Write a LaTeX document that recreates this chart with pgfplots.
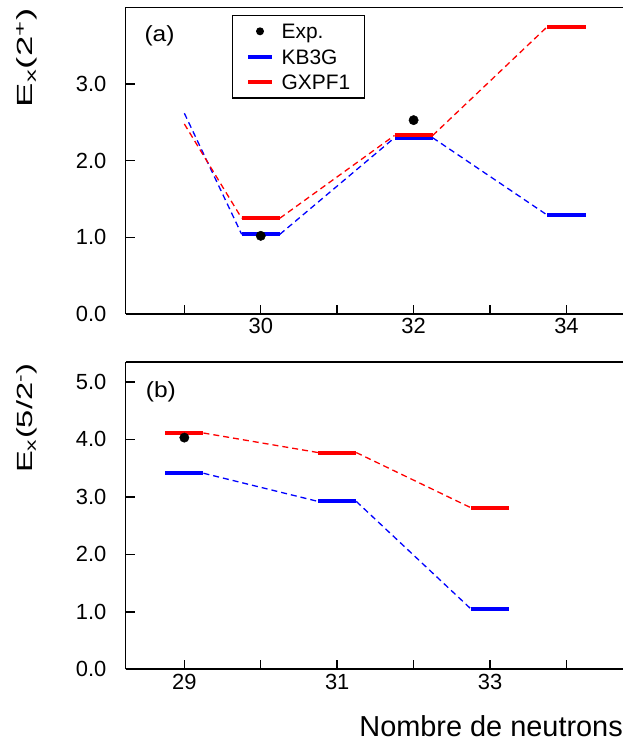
\documentclass[border=0pt]{standalone}
\usepackage{fontspec}
\setmainfont{Liberation Sans}
\usepackage{pgfplots}
\pgfplotsset{compat=1.18}
\definecolor{myblue}{RGB}{0,0,255}
\definecolor{myred}{RGB}{255,0,0}
\pgfplotsset{
  common/.style={
    scale only axis, width=497.5bp,
    xmin=28.23, xmax=34.74,
    axis x line*=box, axis y line*=left,
    xtick pos=bottom, ytick pos=left,
    tick align=inside,
    major tick length=9bp, minor tick length=9bp,
    axis line style={line width=1.6bp, black},
    every tick/.style={line width=1.4bp, black},
    tick label style={font=\fontsize{22}{26}\selectfont, inner sep=0pt},
    xticklabel style={yshift=-4.5bp},
    yticklabel style={xshift=-19bp},
    /pgf/number format/assume math mode=true,
    yticklabel style={/pgf/number format/fixed, /pgf/number format/fixed zerofill, /pgf/number format/precision=1},
    unbounded coords=jump,
    clip=false,
  },
  bar/.style={line width=4bp, forget plot},
  dsh/.style={line width=1.3bp, dash pattern=on 6bp off 4bp, forget plot},
}
\begin{document}
\begin{tikzpicture}
\useasboundingbox (0,0) rectangle (623bp,742bp);
% ---------- top panel ----------
\begin{axis}[common, at={(125.5bp,428bp)}, anchor=south west, height=306.5bp,
  ymin=0, ymax=4.0, ytick={0,1,2,3},
  xtick={30,32,34}, minor xtick={29,31,33},
  legend style={at={(0.2135,0.9755)}, anchor=north west, draw=black, line width=1.3bp,
    font=\fontsize{21}{24}\selectfont, inner xsep=14bp, inner ysep=2.9bp, row sep=0pt,
    nodes={inner sep=0pt, text height=20.1bp, text depth=5.4bp}},
  legend cell align=left]
\addlegendimage{legend image code/.code={\path[draw=none] (0bp,0bp) -- (33.3bp,0bp); \fill[black, draw=none] (11.65bp,0bp) circle (4bp);}}
\addlegendentry{Exp.}
\addlegendimage{legend image code/.code={\path[draw=none] (0bp,0bp) -- (33.3bp,0bp); \draw[myblue, line width=4bp] (0bp,0bp) -- (23.3bp,0bp);}}
\addlegendentry{KB3G}
\addlegendimage{legend image code/.code={\path[draw=none] (0bp,0bp) -- (33.3bp,0bp); \draw[myred, line width=4bp] (0bp,0bp) -- (23.3bp,0bp);}}
\addlegendentry{GXPF1}
% KB3G
\addplot[myblue, dsh] coordinates {(29,2.62) (29.75,1.04) (30,nan) (30.25,1.04) (31.75,2.30) (32,nan) (32.25,2.30) (33.75,1.29)};
\addplot[myblue, bar] coordinates {(29.75,1.04) (30.25,1.04) (31,nan) (31.75,2.30) (32.25,2.30) (33,nan) (33.75,1.29) (34.25,1.29)};
% GXPF1
\addplot[myred, dsh] coordinates {(29,2.48) (29.75,1.25) (30,nan) (30.25,1.25) (31.75,2.33) (32,nan) (32.25,2.33) (33.75,3.75)};
\addplot[myred, bar] coordinates {(29.75,1.25) (30.25,1.25) (31,nan) (31.75,2.33) (32.25,2.33) (33,nan) (33.75,3.75) (34.25,3.75)};
% Exp
\addplot[only marks, mark=*, mark size=4.7bp, black, forget plot] coordinates {(30,1.02) (32,2.53)};
\end{axis}
% ---------- bottom panel ----------
\begin{axis}[common, at={(125.5bp,72.7bp)}, anchor=south west, height=307bp,
  ymin=0, ymax=5.34, ytick={0,1,2,3,4,5},
  xtick={29,31,33}, minor xtick={30,32,34}]
\addplot[myblue, dsh] coordinates {(29.25,3.41) (30.75,2.92) (31,nan) (31.25,2.92) (32.75,1.05)};
\addplot[myblue, bar] coordinates {(28.75,3.41) (29.25,3.41) (30,nan) (30.75,2.92) (31.25,2.92) (32,nan) (32.75,1.05) (33.25,1.05)};
\addplot[myred, dsh] coordinates {(29.25,4.11) (30.75,3.77) (31,nan) (31.25,3.77) (32.75,2.81)};
\addplot[myred, bar] coordinates {(28.75,4.11) (29.25,4.11) (30,nan) (30.75,3.77) (31.25,3.77) (32,nan) (32.75,2.81) (33.25,2.81)};
\addplot[only marks, mark=*, mark size=4.7bp, black, forget plot] coordinates {(29,4.03)};
\end{axis}
% ---------- labels ----------
\node[anchor=west, inner sep=0, font=\fontsize{22}{26}\selectfont] at (144.3bp,706bp) {\scalebox{1.12}[1]{(a)}};
\node[anchor=west, inner sep=0, font=\fontsize{22}{26}\selectfont] at (145.7bp,350.3bp) {\scalebox{1.12}[1]{(b)}};
\node[rotate=90, anchor=base east, inner sep=0, font=\fontsize{22}{26}\selectfont] at (32.7bp,733.7bp) {\scalebox{1.67}[1]{E\textsubscript{x}(2\textsuperscript{+})}};
\node[rotate=90, anchor=base east, inner sep=0, font=\fontsize{22}{26}\selectfont] at (32.7bp,378.7bp) {\scalebox{1.49}[1]{E\textsubscript{x}(5/2\textsuperscript{-})}};
\node[anchor=base east, inner sep=0, font=\fontsize{29}{34}\selectfont] at (623bp,5.3bp) {Nombre de neutrons};
\end{tikzpicture}
\end{document}
